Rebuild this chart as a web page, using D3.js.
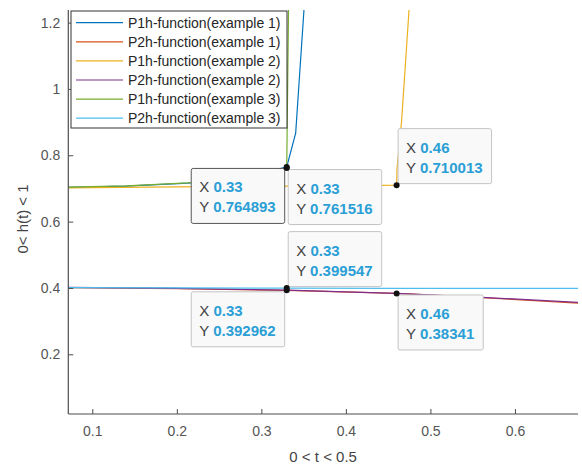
<!DOCTYPE html>
<html><head><meta charset="utf-8">
<script src="https://cdn.jsdelivr.net/npm/d3@7"></script>
<style>body{margin:0;background:#fff;} text{font-family:"Liberation Sans",Arial,sans-serif;}</style>
</head><body>
<svg id="c" width="582" height="467"></svg>
<script>
// ---- data ----
const seriesNames = ["P1h-function(example 1)","P2h-function(example 1)","P1h-function(example 2)","P2h-function(example 2)","P1h-function(example 3)","P2h-function(example 3)"];
const seriesColors = ["#0072BD","#D95319","#EDB120","#7E2F8E","#77AC30","#4DBEEE"];
const p1hEx1T = [0.0716,0.14,0.213,0.27,0.30,0.33,0.3406,0.3504,0.353];
const p1hEx1H = [0.703,0.707,0.716,0.732,0.745,0.764893,0.867,1.238,1.32];
const p2hEx1T = [0.0716,0.2,0.33,0.46,0.55,0.6746];
const p2hEx1H = [0.401,0.398,0.392962,0.38341,0.3725,0.354];
const p1hEx2T = [0.0716,0.2,0.33,0.40,0.46,0.4605,0.466,0.4747,0.477];
const p1hEx2H = [0.702,0.705,0.707,0.708,0.710013,0.76,0.906,1.238,1.32];
const p2hEx2T = [0.0716,0.2,0.33,0.46,0.55,0.6746];
const p2hEx2H = [0.402,0.399,0.3933,0.3837,0.3732,0.3565];
const p1hEx3T = [0.0716,0.14,0.213,0.27,0.30,0.33,0.3325];
const p1hEx3H = [0.704,0.708,0.717,0.731,0.744,0.761516,1.32];
const p2hEx3T = [0.0716,0.2,0.33,0.46,0.6746];
const p2hEx3H = [0.401,0.4003,0.399547,0.3990,0.3985];
const xTicks = [0.1,0.2,0.3,0.4,0.5,0.6];
const yTicks = [0.2,0.4,0.6,0.8,1,1.2];
const tipX = [0.33,0.33,0.46,0.33,0.33,0.46];
const tipY = [0.764893,0.761516,0.710013,0.399547,0.392962,0.38341];
const tipLabelY = ["0.764893","0.761516","0.710013","0.399547","0.392962","0.38341"];
const tipLabelX = ["0.33","0.33","0.46","0.33","0.33","0.46"];
const tipPlacement = ["sw","se","ne","ne","sw","se"];
const xLabel = "0 < t < 0.5";
const yLabel = "0< h(t) < 1";

// ---- layout ----
const L = 68.3, R = 578, T = 10, B = 414;
const x = d3.scaleLinear().domain([0.0716,0.6746]).range([L,R]);
const y = d3.scaleLinear().domain([0.02,1.238]).range([B,T]);
const svg = d3.select("#c");
const axisColor = "#4d4d4d";

svg.append("clipPath").attr("id","clip").append("rect")
  .attr("x",L).attr("y",T).attr("width",R-L).attr("height",B-T);

const seriesT = [p1hEx1T,p2hEx1T,p1hEx2T,p2hEx2T,p1hEx3T,p2hEx3T];
const seriesH = [p1hEx1H,p2hEx1H,p1hEx2H,p2hEx2H,p1hEx3H,p2hEx3H];
const line = d3.line().x(d=>x(d[0])).y(d=>y(d[1]));
const gLines = svg.append("g").attr("clip-path","url(#clip)");
seriesT.forEach((ts,i)=>{
  gLines.append("path").datum(ts.map((t,j)=>[t,seriesH[i][j]]))
    .attr("d",line).attr("fill","none").attr("stroke",seriesColors[i]).attr("stroke-width",1.2);
});

// axes
const xAxis = d3.axisBottom(x).tickValues(xTicks).tickSizeInner(-5).tickSizeOuter(0).tickPadding(12).tickFormat(d3.format("~g"));
const yAxis = d3.axisLeft(y).tickValues(yTicks).tickSizeInner(-5).tickSizeOuter(0).tickPadding(8).tickFormat(d3.format("~g"));
const gx = svg.append("g").attr("transform",`translate(0,${B})`).call(xAxis);
const gy = svg.append("g").attr("transform",`translate(${L},0)`).call(yAxis);
[gx,gy].forEach(g=>{
  g.select(".domain").attr("stroke",axisColor).attr("stroke-width",1.2);
  g.selectAll(".tick line").attr("stroke",axisColor);
  g.selectAll(".tick text").attr("fill","#555").style("font-size","14px").style("font-family","Liberation Sans, Arial, sans-serif");
});
gx.select(".domain").attr("d",`M${L},0H${R}`);
gy.select(".domain").attr("d",`M0,${B}V${T}`);

svg.append("text").attr("x",(L+R)/2).attr("y",462).attr("text-anchor","middle")
  .attr("fill","#444").style("font-size","15px").text(xLabel);
svg.append("text").attr("transform",`translate(28,219) rotate(-90)`).attr("text-anchor","middle")
  .attr("fill","#444").style("font-size","15px").text(yLabel);

// legend
const lg = svg.append("g");
lg.append("rect").attr("x",71).attr("y",11).attr("width",216).attr("height",117)
  .attr("fill","#fff").attr("stroke","#333").attr("stroke-width",1);
seriesNames.forEach((n,i)=>{
  const yy = 22.7 + i*19.1;
  lg.append("line").attr("x1",76).attr("x2",123).attr("y1",yy).attr("y2",yy)
    .attr("stroke",seriesColors[i]).attr("stroke-width",1.2);
  lg.append("text").attr("x",128).attr("y",yy+5).attr("fill","#262626").style("font-size","14px").text(n);
});

// data tips
const gt = svg.append("g");
tipX.forEach((tx,i)=>{
  const px = x(tx), py = y(tipY[i]);
  const g = gt.append("g");
  const rect = g.append("rect").attr("rx",2).attr("fill","#f9f9f9")
    .attr("stroke", i===0 ? "#555" : "#c4c4c4").attr("stroke-width",1);
  const t1 = g.append("text").style("font-size","15px");
  t1.append("tspan").attr("fill","#404040").text("X ");
  t1.append("tspan").attr("fill","#2a9fd6").attr("font-weight","bold").text(tipLabelX[i]);
  const t2 = g.append("text").style("font-size","15px");
  t2.append("tspan").attr("fill","#404040").text("Y ");
  t2.append("tspan").attr("fill","#2a9fd6").attr("font-weight","bold").text(tipLabelY[i]);
  const w = Math.max(t1.node().getComputedTextLength(), t2.node().getComputedTextLength()) + 17;
  const h = 55;
  const p = tipPlacement[i];
  const bx = p.includes("w") ? px - 2 - w : px + 1.5;
  const by = p.includes("s") ? py + 1.5 : py - 1.5 - h;
  rect.attr("x",bx).attr("y",by).attr("width",w).attr("height",h);
  t1.attr("x",bx+8).attr("y",by+24);
  t2.attr("x",bx+8).attr("y",by+44);
  svg.append("circle").attr("cx",px).attr("cy",py).attr("r",3).attr("fill","#111");
});
</script>
</body></html>
